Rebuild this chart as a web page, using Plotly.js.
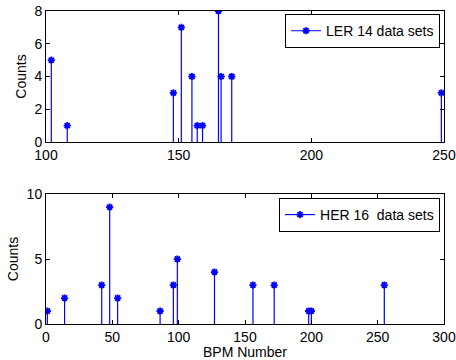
<!DOCTYPE html>
<html><head><meta charset="utf-8">
<script src="https://cdn.plot.ly/plotly-3.0.1.min.js"></script>
<style>body{margin:0;padding:0;background:#fff}#plot{width:456px;height:360px}</style>
</head><body><div id="plot"></div>
<script>
const lerBpm = [102, 108, 148, 151, 155, 157, 159, 165, 166, 170, 249];
const lerCounts = [5, 1, 3, 7, 4, 1, 1, 8, 4, 4, 3];
const herBpm = [1, 14, 42, 48, 54, 86, 96, 99, 127, 156, 172, 198, 200, 255];
const herCounts = [1, 2, 3, 9, 2, 1, 3, 5, 4, 3, 3, 1, 1, 3];
const lerLabel = 'LER 14 data sets';
const herLabel = 'HER 16  data sets';

function stems(xs, ys){
  const sx=[], sy=[];
  xs.forEach((x,i)=>{sx.push(x,x,null); sy.push(0,ys[i],null);});
  return {sx, sy};
}
const col = 'rgb(0,0,255)';
const mk = {symbol:'asterisk-open', size:6, color:col, line:{color:col, width:1.8}};
const fnt = {family:'Liberation Sans, Arial, sans-serif', size:14, color:'#000'};

function traces(xs, ys, xa, ya, leg, name){
  const s = stems(xs, ys);
  return [
    {x:s.sx, y:s.sy, xaxis:xa, yaxis:ya, mode:'lines', line:{color:col, width:1.2}, showlegend:false, hoverinfo:'skip'},
    {x:xs, y:ys, xaxis:xa, yaxis:ya, mode:'markers', marker:mk, showlegend:false},
    {x:[null], y:[null], xaxis:xa, yaxis:ya, mode:'lines+markers', marker:mk, line:{color:col, width:1.2}, name:name, legend:leg, showlegend:true}
  ];
}
const data = [].concat(
  traces(lerBpm, lerCounts, 'x', 'y', 'legend', lerLabel),
  traces(herBpm, herCounts, 'x2', 'y2', 'legend2', herLabel)
);
const axBase = {showgrid:false, zeroline:false, showline:true, mirror:'ticks', linecolor:'#000', linewidth:1,
  ticks:'inside', ticklen:4, tickcolor:'#000', tickfont:fnt};
const layout = {
  width:456, height:360, margin:{l:46, r:12, t:11, b:36},
  paper_bgcolor:'#fff', plot_bgcolor:'#fff', font:fnt,
  xaxis: Object.assign({}, axBase, {domain:[0,1], anchor:'y', range:[100,250], tickvals:[100,150,200,250]}),
  yaxis: Object.assign({}, axBase, {domain:[0.5815,1], anchor:'x', range:[0,8], tickvals:[0,2,4,6,8],
    title:{text:'Counts', font:fnt, standoff:4}}),
  xaxis2: Object.assign({}, axBase, {domain:[0,1], anchor:'y2', range:[0,300], tickvals:[0,50,100,150,200,250,300],
    title:{text:'BPM Number', font:fnt, standoff:0}}),
  yaxis2: Object.assign({}, axBase, {domain:[0,0.415], anchor:'x2', range:[0,10], tickvals:[0,5,10],
    title:{text:'Counts', font:fnt, standoff:4}}),
  legend:{x:0.99, xanchor:'right', y:0.99, yanchor:'top', bordercolor:'#000', borderwidth:1, bgcolor:'#fff',
    font:fnt, tracegroupgap:0, itemwidth:30},
  legend2:{x:0.99, xanchor:'right', y:0.4026, yanchor:'top', bordercolor:'#000', borderwidth:1, bgcolor:'#fff',
    font:fnt, tracegroupgap:0, itemwidth:30},
  showlegend:true
};
Plotly.newPlot('plot', data, layout, {staticPlot:true, displayModeBar:false});
</script></body></html>
